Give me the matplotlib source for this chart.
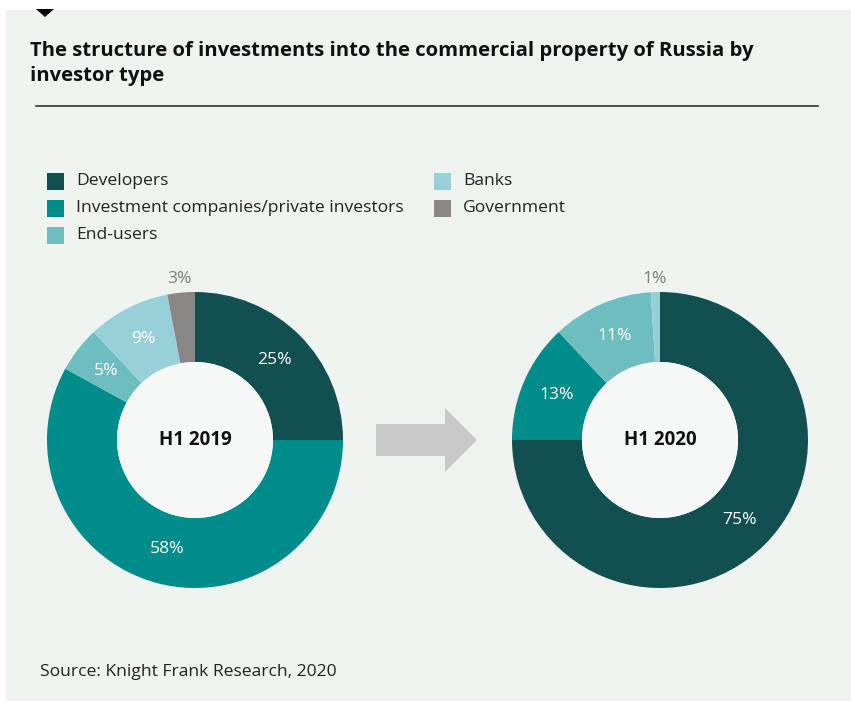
import numpy as np
import matplotlib.pyplot as plt
from matplotlib.patches import Rectangle, Circle, FancyArrow, Polygon

plt.rcParams['font.family'] = ['Open Sans', 'DejaVu Sans']

# Data
categories = ["Developers", "Investment companies/private investors",
              "End-users", "Banks", "Government"]
colors = ["#114f51", "#008c8a", "#6dbdc1", "#98d0da", "#8a8686"]
periods = ["H1 2019", "H1 2020"]
share_2019 = [25, 58, 5, 9, 3]
share_2020 = [75, 13, 11, 1, 0]

title_lines = ["The structure of investments into the commercial property of Russia by",
               "investor type"]
source = "Source: Knight Frank Research, 2020"

W, H = 851, 701
panel_color = "#eff3f0"
hole_color = "#f6f8f7"

fig = plt.figure(figsize=(W / 100, H / 100), dpi=100)

# Background / decoration layer in pixel coordinates
bg = fig.add_axes([0, 0, 1, 1], zorder=0)
bg.set_xlim(0, W)
bg.set_ylim(H, 0)
bg.axis("off")
bg.add_patch(Rectangle((6, 10), W - 6, H - 10, facecolor=panel_color, edgecolor="none"))
bg.add_patch(Polygon([(36, 9), (54, 9), (45, 17)], closed=True, facecolor="black", edgecolor="none"))

# Title
for line, base in zip(title_lines, [56, 81]):
    bg.text(30, base, line, fontsize=14.6, fontweight="bold", color="#111111",
            va="baseline", ha="left")
bg.plot([36, 818], [105.5, 105.5], color="#333333", linewidth=1.2)

# Legend (two columns)
legend_x = [47, 434]
legend_y = [181, 208, 235]
for i, (name, col) in enumerate(zip(categories, colors)):
    lx = legend_x[i // 3]
    ly = legend_y[i % 3]
    bg.add_patch(Rectangle((lx, ly - 8.5), 17, 17, facecolor=col, edgecolor="none"))
    bg.text(lx + 29, ly, name, fontsize=12.6, color="#222222", va="center", ha="left")

# Arrow between the pies
bg.add_patch(FancyArrow(376, 440, 101, 0, width=32, head_width=64, head_length=32,
                        length_includes_head=True, facecolor="#c8c8c8", edgecolor="none"))

bg.text(40, 672, source, fontsize=12.6, color="#222222", va="center", ha="left")

# Donut charts
radius_px = 148
centers = [(195, 440), (660, 440)]
ring = 0.473

for (cx, cy), period, values in zip(centers, periods, [share_2019, share_2020]):
    ax = fig.add_axes([(cx - radius_px) / W, (H - cy - radius_px) / H,
                       2 * radius_px / W, 2 * radius_px / H], zorder=1)
    wedges, _ = ax.pie(values, colors=colors, startangle=90, counterclock=False,
                       radius=1, wedgeprops=dict(width=ring, linewidth=0))
    ax.add_patch(Circle((0, 0), 1 - ring, facecolor=hole_color, edgecolor="none"))
    ax.set_xlim(-1, 1)
    ax.set_ylim(-1, 1)
    ax.set_aspect("equal")
    ax.axis("off")

    for w, v in zip(wedges, values):
        if v == 0:
            continue
        ang = np.deg2rad((w.theta1 + w.theta2) / 2)
        if v >= 5:
            r, col = 1 - ring / 2, "white"
        else:
            r, col = 1.09, "#7f7f7f"
        ax.text(r * np.cos(ang), r * np.sin(ang), f"{v}%", color=col,
                fontsize=12.6, ha="center", va="center")

    ax.text(0, 0, period, fontsize=13.5, fontweight="bold", color="#111111",
            ha="center", va="center")

fig.savefig("out.png", dpi=100)
